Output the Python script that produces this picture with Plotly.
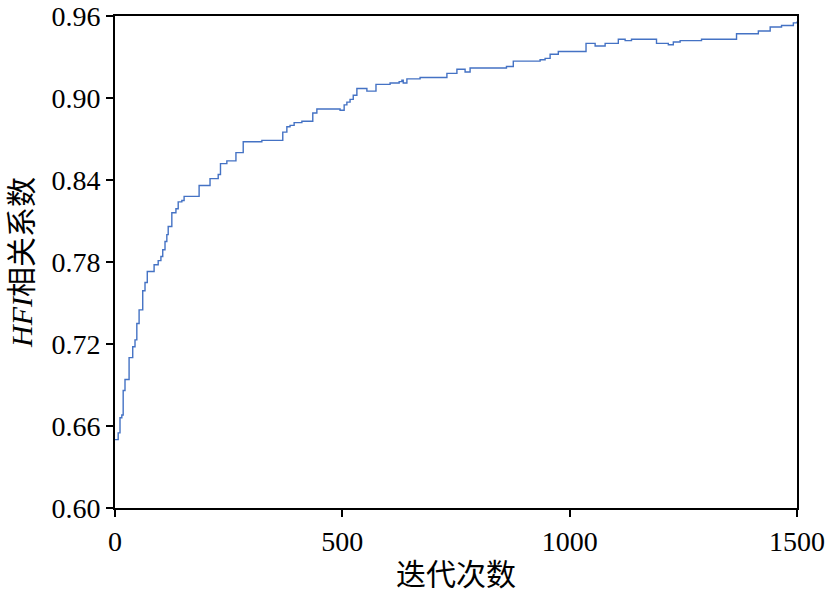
import plotly.graph_objects as go

iterations = [0, 7, 11, 15, 18, 22, 31, 39, 44, 48, 53, 61, 66, 71, 86, 95, 101, 105, 110, 114,
              117, 125, 134, 139, 147, 152, 185, 209, 227, 232, 246, 266, 282, 323, 369, 378,
              385, 394, 411, 435, 444, 495, 504, 510, 517, 524, 532, 554, 574, 605, 625, 631,
              634, 642, 671, 730, 752, 770, 781, 861, 876, 935, 946, 957, 975, 1036, 1056,
              1078, 1107, 1122, 1136, 1191, 1217, 1228, 1243, 1290, 1367, 1415, 1441, 1466,
              1492, 1500]
hfi_corr = [0.650, 0.655, 0.666, 0.668, 0.686, 0.694, 0.710, 0.718, 0.723, 0.735, 0.745, 0.759,
            0.765, 0.773, 0.778, 0.781, 0.784, 0.789, 0.795, 0.800, 0.806, 0.816, 0.819, 0.824,
            0.825, 0.828, 0.836, 0.841, 0.844, 0.852, 0.854, 0.860, 0.868, 0.869, 0.875, 0.879,
            0.880, 0.882, 0.883, 0.889, 0.892, 0.891, 0.895, 0.897, 0.899, 0.902, 0.907, 0.905,
            0.910, 0.911, 0.912, 0.913, 0.911, 0.914, 0.915, 0.918, 0.921, 0.919, 0.922, 0.923,
            0.927, 0.928, 0.929, 0.932, 0.934, 0.940, 0.938, 0.940, 0.943, 0.942, 0.943, 0.940,
            0.939, 0.941, 0.942, 0.943, 0.947, 0.949, 0.952, 0.953, 0.955, 0.956]

y_ticks = [0.60, 0.66, 0.72, 0.78, 0.84, 0.90, 0.96]
x_ticks = [0, 500, 1000, 1500]

font_family = "Liberation Serif"
title_family = "Liberation Serif, Noto Sans CJK SC"

fig = go.Figure()
fig.add_trace(go.Scatter(
    x=iterations, y=hfi_corr, mode="lines", line_shape="hv",
    line=dict(color="#4472C4", width=1.4), showlegend=False,
))

fig.update_layout(
    width=832, height=595,
    margin=dict(l=115, r=35, t=16, b=87, autoexpand=False),
    paper_bgcolor="white", plot_bgcolor="white",
    font=dict(family=font_family, color="black", size=28),
)
fig.update_xaxes(
    range=[0, 1500], tickvals=x_ticks, ticktext=[str(v) for v in x_ticks],
    showgrid=False, zeroline=False, automargin=False, ticklabeloverflow="allow",
    showline=True, linecolor="black", linewidth=2, mirror=True,
    ticks="outside", ticklen=7, tickwidth=1.5, tickcolor="black",
    tickfont=dict(size=28, family=font_family),
    title=dict(text="迭代次数", font=dict(size=30, family=title_family), standoff=8),
)
fig.update_yaxes(
    range=[0.60, 0.96], tickvals=y_ticks, ticktext=[f"{v:.2f}" for v in y_ticks],
    showgrid=False, zeroline=False, automargin=False, ticklabeloverflow="allow",
    showline=True, linecolor="black", linewidth=2, mirror=True,
    ticks="outside", ticklen=7, tickwidth=1.5, tickcolor="black",
    tickfont=dict(size=28, family=font_family),
    title=dict(text="<i>HFI</i>相关系数", font=dict(size=30, family=title_family), standoff=10),
)

fig.write_html("out.html", config={"displayModeBar": False},
               post_script="document.body.style.margin='0';")
